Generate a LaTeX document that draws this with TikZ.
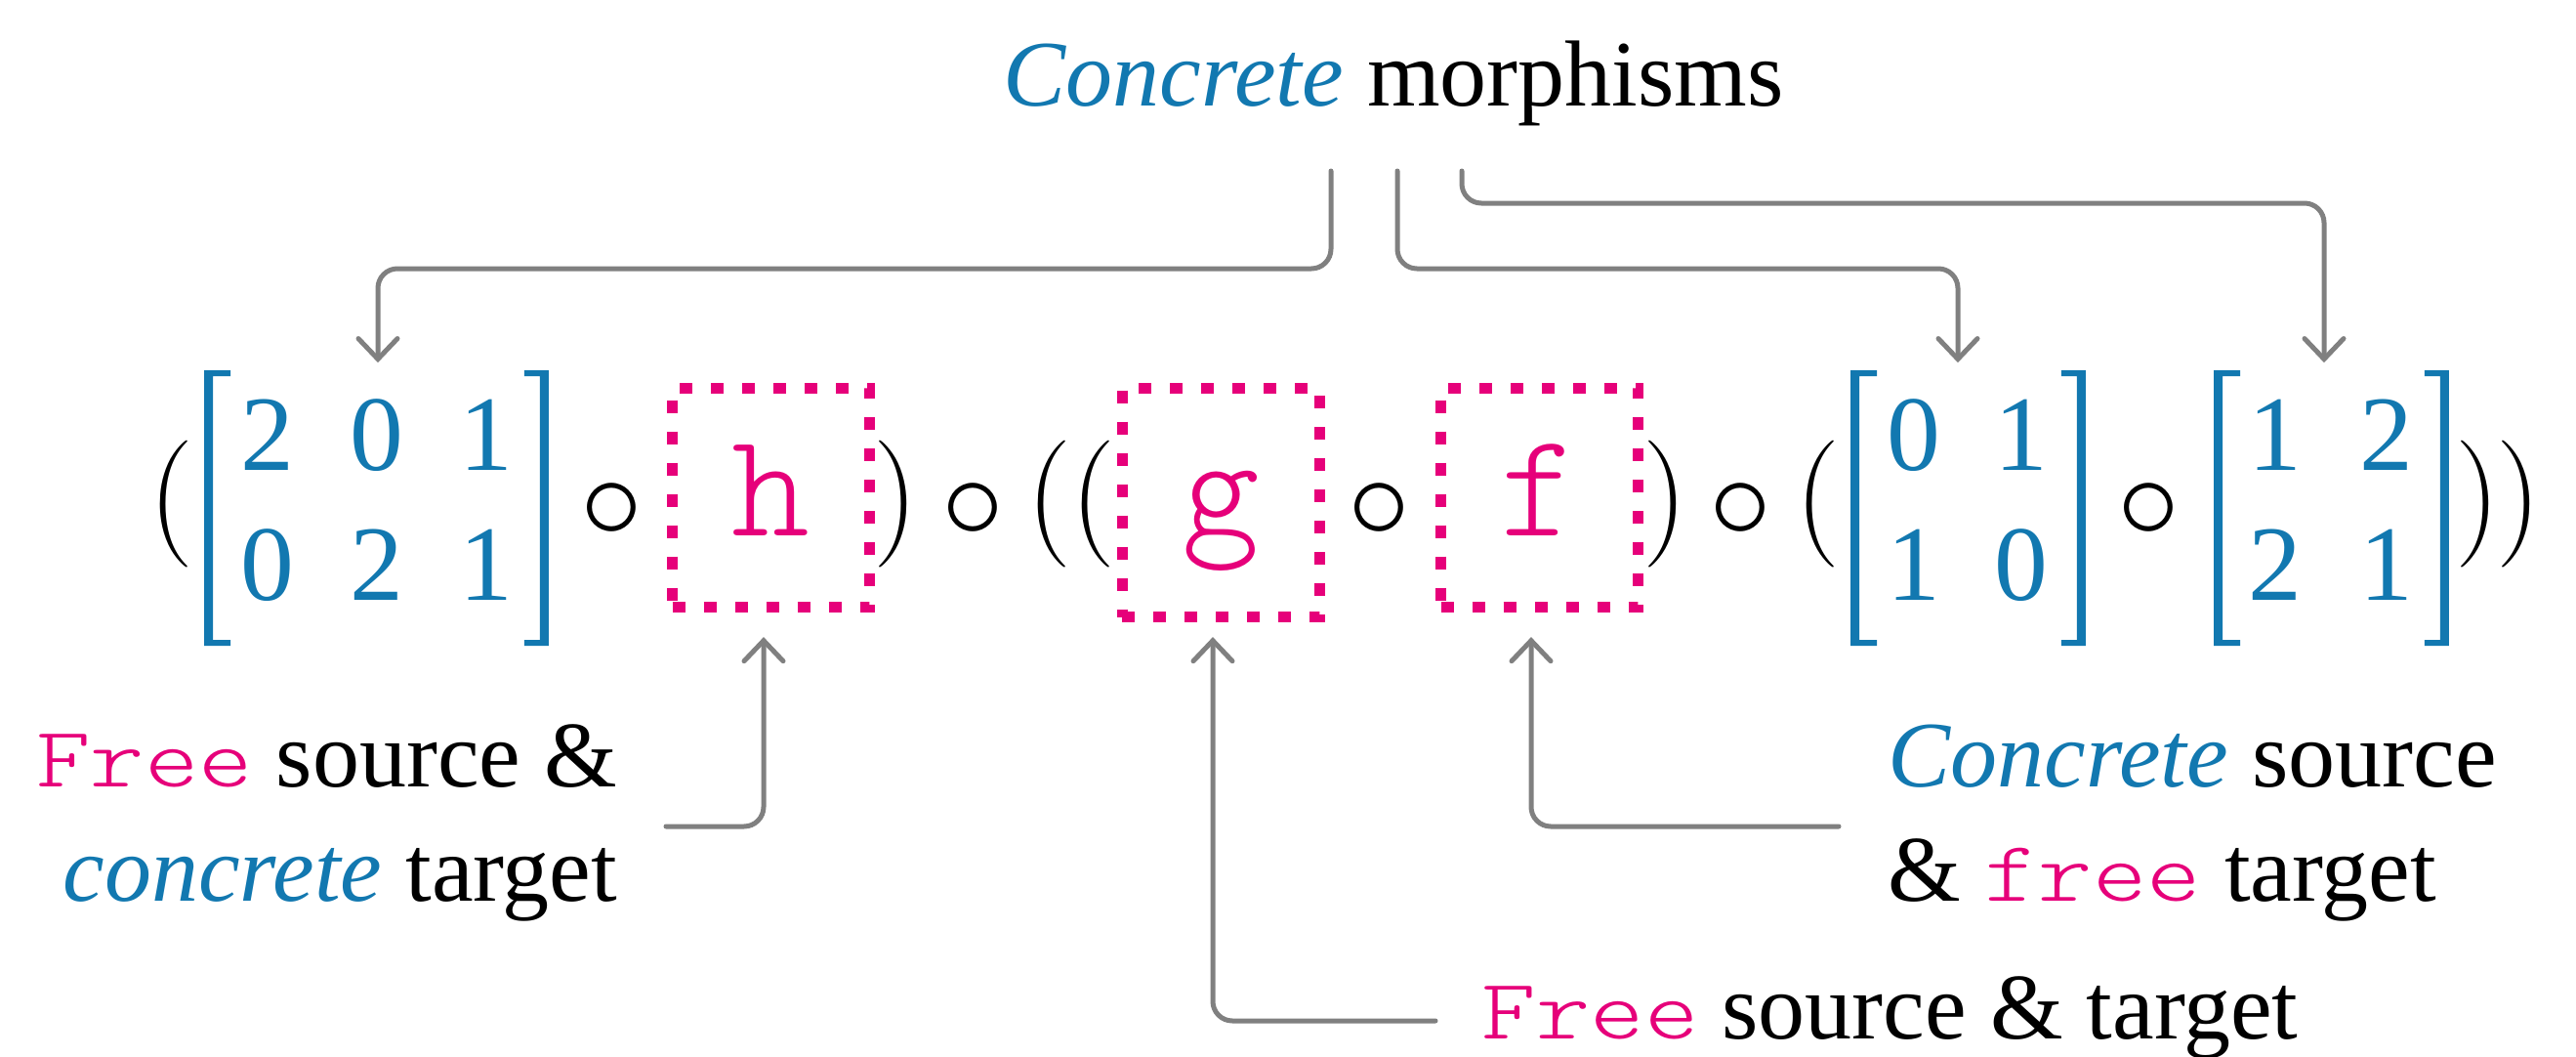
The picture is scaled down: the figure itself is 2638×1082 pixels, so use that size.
\documentclass[tikz,border=0pt]{standalone}
\usepackage{fontspec}
\usetikzlibrary{arrows.meta,calc}
\newfontfamily\tfam{Liberation Serif}
\newfontfamily\ttlight[Extension=.otf]{lmmonolt10-regular}
\definecolor{cblue}{RGB}{18,120,176}
\definecolor{cpink}{RGB}{230,0,122}
\definecolor{cgray}{RGB}{128,128,128}
\newcommand\mono[1]{{\color{cpink}\scalebox{1.2}[1]{\fontsize{22}{22}\selectfont\ttlight #1}}}
\newcommand\conc[1]{{\color{cblue}\itshape #1}}
\begin{document}
\begin{tikzpicture}[x=0.25pt,y=-0.25pt,
  lbl/.style={inner sep=0pt, font=\tfam\fontsize{24}{29.25}\selectfont},
  dig/.style={inner sep=0pt, anchor=base, text=cblue, font=\tfam\fontsize{27.4}{30}\selectfont},
  paren/.style={inner sep=0pt, anchor=base, font=\fontsize{32.5}{33}\selectfont},
  op/.style={inner sep=0pt, anchor=base},
  mat/.style={inner sep=0pt, minimum height=70.5pt},
  fbx/.style={draw=cpink, line width=2.75pt, dash pattern=on 3.25pt off 4.75pt, inner sep=0pt, anchor=base, text=cpink, minimum width=50.5pt, text height=37.6pt, font=\fontsize{38}{38}\selectfont\ttlight},
  arr/.style={draw=cgray, line width=1.25pt, rounded corners=5pt, line cap=round, -{Straight Barb[length=5.25pt,width=10pt,line cap=round]}}
]
\useasboundingbox (0,0) rectangle (2638,1082);

% top label
\node[lbl, anchor=base west] (cm) at (1027,108) {\conc{Concrete} morphisms};
\coordinate (s1) at (1363,175);
\coordinate (s2) at (1431,175);
\coordinate (s3) at (1497,175);

% matrices (bracket frames)
\node[mat, minimum width=87.75pt] (m1) at (385.5,521) {};
\node[mat, minimum width=59.75pt] (m2) at (2015.5,521) {};
\node[mat, minimum width=59.75pt] (m3) at (2387.5,521) {};
\foreach \m in {m1,m2,m3}{
  \fill[cblue] (\m.north west) -- ++(27,0) -- ++(0,6) -- ++(-18,0) -- ++(0,270) -- ++(18,0) -- ++(0,6) -- ++(-27,0) -- cycle;
  \fill[cblue] (\m.north east) -- ++(-25,0) -- ++(0,6) -- ++(16,0) -- ++(0,270) -- ++(-16,0) -- ++(0,6) -- ++(25,0) -- cycle;
}
% matrix entries
\node[dig] (a11) at (274,481) {2};
\node[dig] (a12) at (386,481) {0};
\node[dig] (a13) at (498,481) {1};
\node[dig] (a21) at (274,614) {0};
\node[dig] (a22) at (386,614) {2};
\node[dig] (a23) at (498,614) {1};
\node[dig] (b11) at (1960,481) {0};
\node[dig] (b12) at (2070,481) {1};
\node[dig] (b21) at (1960,614) {1};
\node[dig] (b22) at (2070,614) {0};
\node[dig] (c11) at (2330,481) {1};
\node[dig] (c12) at (2444,481) {2};
\node[dig] (c21) at (2330,614) {2};
\node[dig] (c22) at (2444,614) {1};

% parentheses
\node[paren] (p1) at (176,548) {(};
\node[paren] (p2) at (918,548) {)};
\node[paren] (p3) at (1075,548) {(};
\node[paren] (p4) at (1120,548) {(};
\node[paren] (p5) at (1705,548) {)};
\node[paren] (p6) at (1861,548) {(};
\node[paren] (p7) at (2537,548) {)};
\node[paren] (p8) at (2579,548) {)};

% composition operators
\node[op] (o1) at (626.5,551) {\scalebox{3.2}{$\circ$}};
\node[op] (o2) at (996.5,551) {\scalebox{3.2}{$\circ$}};
\node[op] (o3) at (1412.5,551) {\scalebox{3.2}{$\circ$}};
\node[op] (o4) at (1782,551) {\scalebox{3.2}{$\circ$}};
\node[op] (o5) at (2200,551) {\scalebox{3.2}{$\circ$}};

% free morphisms
\node[fbx, text depth=18.4pt] (hbox) at (789.5,548) {h};
\node[fbx, text depth=20.9pt] (gbox) at (1250,548) {g};
\node[fbx, text depth=18.4pt] (fbox) at (1576.5,548) {f};

% bottom labels
\node[lbl, align=right, anchor=east] (l1) at (633,842) {\mono{Free} source \&\\\conc{concrete} target};
\node[lbl, align=left, anchor=west] (l2) at (1933,843) {\conc{Concrete} source\\\& \mono{free} target};
\node[lbl, anchor=base west] (l3) at (1517,1063) {\mono{Free} source \& target};
\coordinate (c1) at (682,846);
\coordinate (c2) at (1470,1045);
\coordinate (c3) at (1883,846);

% connectors
\draw[arr] (s1) -- ++(0,100) -| ($(m1.north)+(1.5,-8)$);
\draw[arr] (s2) -- ++(0,100) -| ($(m2.north)+(-10.5,-8)$);
\draw[arr] (s3) -- ++(0,33) -| ($(m3.north)+(-7.5,-8)$);
\draw[arr] (c1) -| ($(hbox.south)+(-7.5,25)$);
\draw[arr] (c2) -| ($(gbox.south)+(-8,15)$);
\draw[arr] (c3) -| ($(fbox.south)+(-8.5,25)$);
\end{tikzpicture}
\end{document}
